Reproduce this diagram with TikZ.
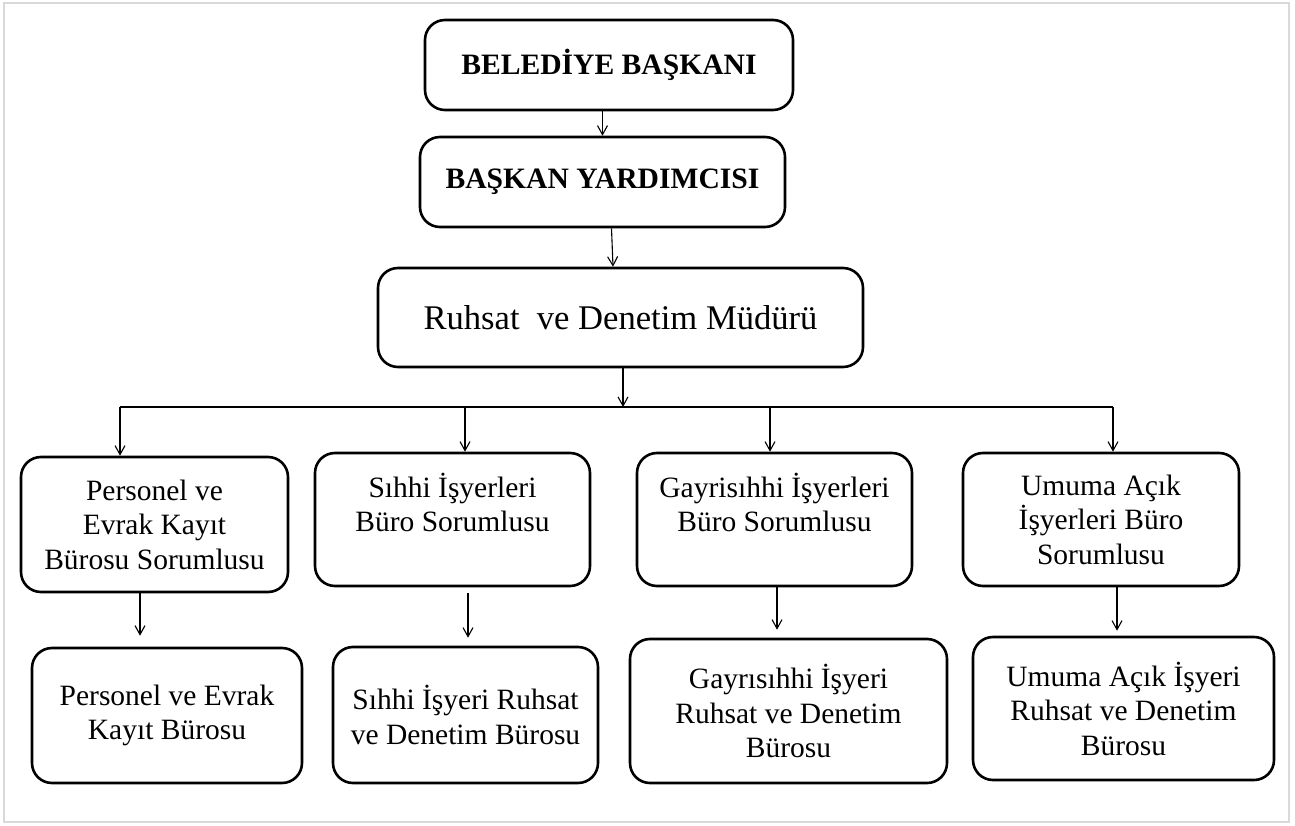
\documentclass[tikz,border=0pt]{standalone}
\usepackage{fontspec}
\setmainfont{Liberation Serif}
\usetikzlibrary{positioning,arrows.meta}

\tikzset{
  unit/.style={draw, line width=2.6pt, rounded corners=20pt, align=center, inner sep=0pt},
  head/.style={unit, font=\fontsize{29.6}{34}\selectfont\bfseries},
  chief/.style={unit, font=\fontsize{34.6}{40}\selectfont},
  office/.style={unit, font=\fontsize{29.5}{34.5}\selectfont},
  link/.style={->, line width=1.1pt},
}

\begin{document}
\begin{tikzpicture}[x=1pt,y=-1pt,on grid,>={Straight Barb[length=9pt,width=10pt]}]
   \useasboundingbox (0,0) rectangle (1295,826);
   \draw[gray!30, line width=1.5pt] (4,3) rectangle (1289,822);

   \node[head, minimum width=368pt, minimum height=90pt] (bb) at (609,65) {BELEDİYE BAŞKANI};
   \node[head, minimum width=365pt, minimum height=90pt] (by) [below left=117pt and 6.5pt of bb] {BAŞKAN YARDIMCISI};
   \node[chief, minimum width=485pt, minimum height=99pt] (rdm) [below right=135.5pt and 18pt of by] {Ruhsat~ ve Denetim Müdürü};

   \node[office, minimum width=267pt, minimum height=135pt] (p1) at (154.5,524.5) {Personel ve\\Evrak Kayıt\\Bürosu Sorumlusu};
   \node[office, minimum width=275pt, minimum height=133pt] (s1) [above right=5pt and 298pt of p1] {Sıhhi İşyerleri\\Büro Sorumlusu\\\mbox{}};
   \node[office, minimum width=275pt, minimum height=133pt] (g1) [right=322pt of s1] {Gayrisıhhi İşyerleri\\Büro Sorumlusu\\\mbox{}};
   \node[office, minimum width=276pt, minimum height=133pt] (u1) [right=326.5pt of g1] {Umuma Açık\\İşyerleri Büro\\Sorumlusu};

   \node[office, minimum width=270pt, minimum height=135pt] (p2) [below right=191pt and 12.5pt of p1] {Personel ve Evrak\\Kayıt Bürosu};
   \node[office, minimum width=265pt, minimum height=136pt] (s2) [below right=195.5pt and 13pt of s1] {Sıhhi İşyeri Ruhsat\\ve Denetim Bürosu};
   \node[office, minimum width=317pt, minimum height=144pt] (g2) [below right=191.5pt and 14pt of g1] {Gayrısıhhi İşyeri\\Ruhsat ve Denetim\\Bürosu};
   \node[office, minimum width=301pt, minimum height=143pt] (u2) [below right=189pt and 22.5pt of u1] {Umuma Açık İşyeri\\Ruhsat ve Denetim\\Bürosu};

   \coordinate (bus_l) at (120,407);
   \coordinate (bus_r) at (1113,407);
   \draw[line width=1.1pt] (bus_l) -- (bus_r);

    \path[link]
    (by.north |- bb.south) edge (by.north)
    ([xshift=9pt]by.south) edge ([xshift=-7.5pt]rdm.north)
    ([xshift=2.5pt]rdm.south) edge ([xshift=2.5pt]rdm.south |- bus_l)

    (bus_l) edge (bus_l |- p1.north)
    ([xshift=12.5pt]s1.north |- bus_l) edge ([xshift=12.5pt]s1.north)
    ([xshift=-4.5pt]g1.north |- bus_l) edge ([xshift=-4.5pt]g1.north)
    (bus_r) edge (bus_r |- u1.north)

    ([xshift=-14.5pt]p1.south) edge[shorten >=11pt] ([xshift=-14.5pt]p1.south |- p2.north)
    ([xshift=15.5pt]s1.south) edge[shorten <=6pt, shorten >=8pt] ([xshift=15.5pt]s1.south |- s2.north)
    ([xshift=2.5pt]g1.south) edge[shorten >=8pt] ([xshift=2.5pt]g1.south |- g2.north)
    ([xshift=16pt]u1.south) edge[shorten >=5pt] ([xshift=16pt]u1.south |- u2.north);
\end{tikzpicture}
\end{document}
